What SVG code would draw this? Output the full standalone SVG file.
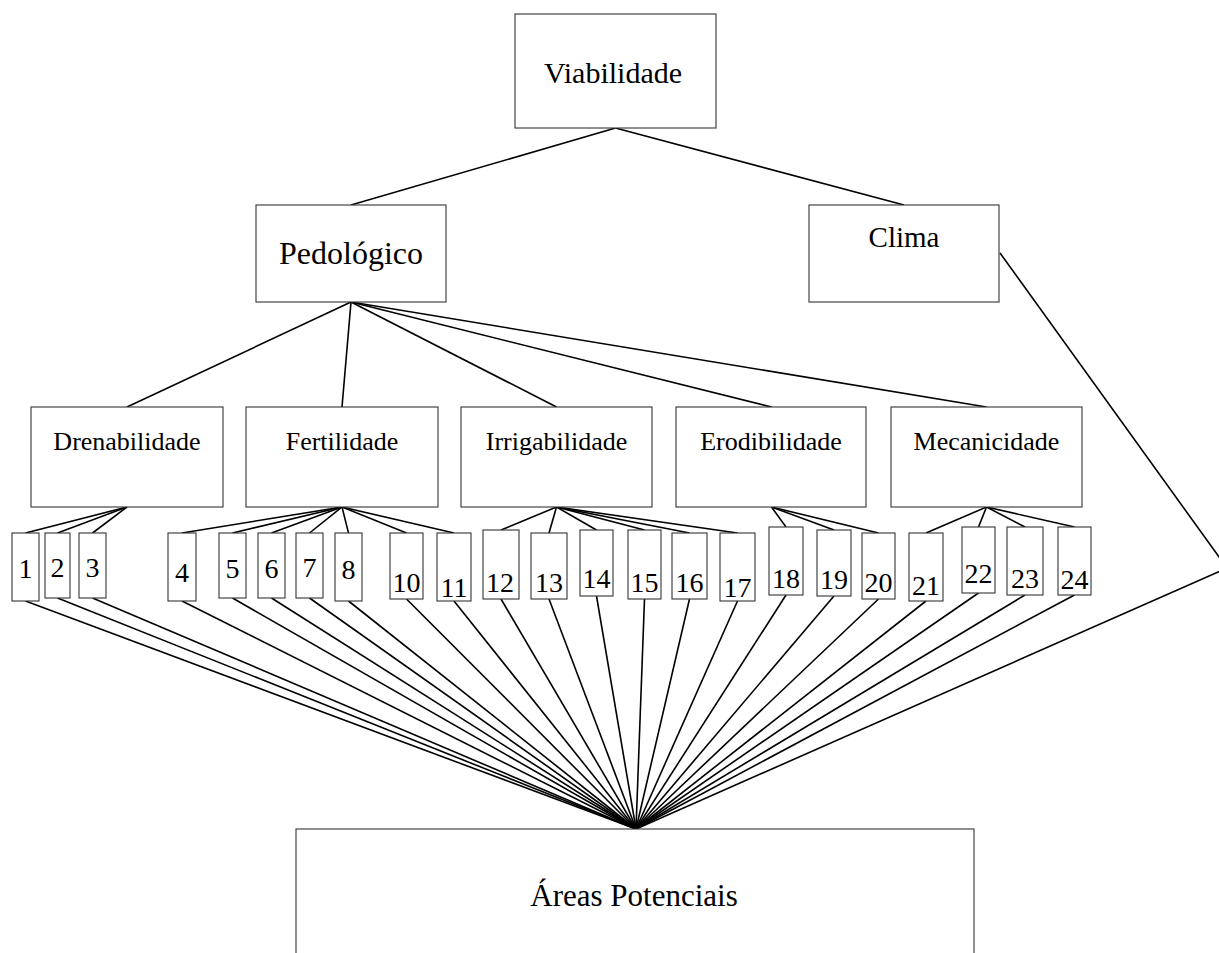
<svg xmlns="http://www.w3.org/2000/svg" width="1219" height="953" viewBox="0 0 1219 953">
<style>
.box{fill:#fff;stroke:#333;stroke-width:1.1}
.t{font-family:"Liberation Serif","Times New Roman",serif;fill:#000;text-anchor:middle}
.big{font-size:30px}
.mid{font-size:26px}
.num{font-size:28px}
.c line,.c polyline{stroke:#000;stroke-width:1.6;fill:none}
</style>
<rect width="1219" height="953" fill="#fff"/>
<g class="c" id="connectors">
<line x1="615.5" y1="128" x2="351" y2="205"/>
<line x1="615.5" y1="128" x2="904" y2="205"/>
<line x1="351" y1="302" x2="127" y2="407"/>
<line x1="351" y1="302" x2="342" y2="407"/>
<line x1="351" y1="302" x2="556.5" y2="407"/>
<line x1="351" y1="302" x2="771.5" y2="407"/>
<line x1="351" y1="302" x2="986.5" y2="407"/>
<line x1="127" y1="507" x2="25.5" y2="533"/>
<line x1="127" y1="507" x2="57.5" y2="533"/>
<line x1="127" y1="507" x2="92.5" y2="533"/>
<line x1="342" y1="507" x2="182" y2="533"/>
<line x1="342" y1="507" x2="232.5" y2="533"/>
<line x1="342" y1="507" x2="271.5" y2="533"/>
<line x1="342" y1="507" x2="309.5" y2="533"/>
<line x1="342" y1="507" x2="348.5" y2="533"/>
<line x1="342" y1="507" x2="406.5" y2="533"/>
<line x1="342" y1="507" x2="454" y2="533"/>
<line x1="556.5" y1="507" x2="501" y2="530"/>
<line x1="556.5" y1="507" x2="549" y2="533"/>
<line x1="556.5" y1="507" x2="596.5" y2="530"/>
<line x1="556.5" y1="507" x2="644.5" y2="530"/>
<line x1="556.5" y1="507" x2="689.5" y2="533"/>
<line x1="556.5" y1="507" x2="737.5" y2="533"/>
<line x1="771.5" y1="507" x2="786" y2="527"/>
<line x1="771.5" y1="507" x2="834" y2="530"/>
<line x1="771.5" y1="507" x2="878.5" y2="533"/>
<line x1="986.5" y1="507" x2="926" y2="533"/>
<line x1="986.5" y1="507" x2="978.5" y2="527"/>
<line x1="986.5" y1="507" x2="1025" y2="527"/>
<line x1="986.5" y1="507" x2="1074.5" y2="527"/>
<line x1="25.5" y1="601" x2="636" y2="829"/>
<line x1="57.5" y1="598" x2="636" y2="829"/>
<line x1="92.5" y1="598" x2="636" y2="829"/>
<line x1="182" y1="601" x2="636" y2="829"/>
<line x1="232.5" y1="598" x2="636" y2="829"/>
<line x1="271.5" y1="598" x2="636" y2="829"/>
<line x1="309.5" y1="598" x2="636" y2="829"/>
<line x1="348.5" y1="601" x2="636" y2="829"/>
<line x1="406.5" y1="599" x2="636" y2="829"/>
<line x1="454" y1="601" x2="636" y2="829"/>
<line x1="501" y1="599" x2="636" y2="829"/>
<line x1="549" y1="599" x2="636" y2="829"/>
<line x1="596.5" y1="596" x2="636" y2="829"/>
<line x1="644.5" y1="599" x2="636" y2="829"/>
<line x1="689.5" y1="599" x2="636" y2="829"/>
<line x1="737.5" y1="601" x2="636" y2="829"/>
<line x1="786" y1="595" x2="636" y2="829"/>
<line x1="834" y1="596" x2="636" y2="829"/>
<line x1="878.5" y1="599" x2="636" y2="829"/>
<line x1="926" y1="601" x2="636" y2="829"/>
<line x1="978.5" y1="593" x2="636" y2="829"/>
<line x1="1025" y1="595" x2="636" y2="829"/>
<line x1="1074.5" y1="595" x2="636" y2="829"/>
<polyline points="1000,253 1227,568 636,829"/>
</g>
<g id="viabilidade"><rect class="box" x="515" y="14" width="201" height="114"/><text class="t big" x="613" y="83">Viabilidade</text></g>
<g id="pedologico"><rect class="box" x="256" y="205" width="190" height="97"/><text class="t" style="font-size:32px" x="351" y="264">Pedológico</text></g>
<g id="clima"><rect class="box" x="809" y="205" width="190" height="97"/><text class="t" style="font-size:29px" x="904" y="247">Clima</text></g>
<g id="drenabilidade"><rect class="box" x="31" y="407" width="192" height="100"/><text class="t mid" x="127" y="450">Drenabilidade</text></g>
<g id="fertilidade"><rect class="box" x="246" y="407" width="192" height="100"/><text class="t mid" x="342" y="450">Fertilidade</text></g>
<g id="irrigabilidade"><rect class="box" x="461" y="407" width="191" height="100"/><text class="t mid" x="556.5" y="450">Irrigabilidade</text></g>
<g id="erodibilidade"><rect class="box" x="676" y="407" width="190" height="100"/><text class="t mid" x="771" y="450">Erodibilidade</text></g>
<g id="mecanicidade"><rect class="box" x="891" y="407" width="191" height="100"/><text class="t mid" x="986.5" y="450">Mecanicidade</text></g>
<g id="n1"><rect class="box" x="12" y="533" width="27" height="68"/><text class="t num" x="25.5" y="578">1</text></g>
<g id="n2"><rect class="box" x="45" y="533" width="25" height="65"/><text class="t num" x="57.5" y="577">2</text></g>
<g id="n3"><rect class="box" x="79" y="533" width="27" height="65"/><text class="t num" x="92.5" y="577">3</text></g>
<g id="n4"><rect class="box" x="168" y="533" width="28" height="68"/><text class="t num" x="182" y="582">4</text></g>
<g id="n5"><rect class="box" x="219" y="533" width="27" height="65"/><text class="t num" x="232.5" y="578">5</text></g>
<g id="n6"><rect class="box" x="258" y="533" width="27" height="65"/><text class="t num" x="271.5" y="578">6</text></g>
<g id="n7"><rect class="box" x="296" y="533" width="27" height="65"/><text class="t num" x="309.5" y="577">7</text></g>
<g id="n8"><rect class="box" x="335" y="533" width="27" height="68"/><text class="t num" x="348.5" y="579">8</text></g>
<g id="n10"><rect class="box" x="390" y="533" width="33" height="66"/><text class="t num" x="406.5" y="592">10</text></g>
<g id="n11"><rect class="box" x="437" y="533" width="34" height="68"/><text class="t num" x="454" y="597">11</text></g>
<g id="n12"><rect class="box" x="483" y="530" width="36" height="69"/><text class="t num" x="500" y="592">12</text></g>
<g id="n13"><rect class="box" x="531" y="533" width="36" height="66"/><text class="t num" x="549" y="592">13</text></g>
<g id="n14"><rect class="box" x="580" y="530" width="33" height="66"/><text class="t num" x="596.5" y="588">14</text></g>
<g id="n15"><rect class="box" x="628" y="530" width="33" height="69"/><text class="t num" x="644.5" y="592">15</text></g>
<g id="n16"><rect class="box" x="672" y="533" width="35" height="66"/><text class="t num" x="689.5" y="592">16</text></g>
<g id="n17"><rect class="box" x="720" y="533" width="35" height="68"/><text class="t num" x="737.5" y="597">17</text></g>
<g id="n18"><rect class="box" x="769" y="527" width="34" height="68"/><text class="t num" x="786" y="588">18</text></g>
<g id="n19"><rect class="box" x="817" y="530" width="34" height="66"/><text class="t num" x="834" y="589">19</text></g>
<g id="n20"><rect class="box" x="862" y="533" width="33" height="66"/><text class="t num" x="878.5" y="592">20</text></g>
<g id="n21"><rect class="box" x="909" y="533" width="34" height="68"/><text class="t num" x="926" y="595">21</text></g>
<g id="n22"><rect class="box" x="962" y="527" width="33" height="66"/><text class="t num" x="978.5" y="583">22</text></g>
<g id="n23"><rect class="box" x="1007" y="527" width="36" height="68"/><text class="t num" x="1025" y="588">23</text></g>
<g id="n24"><rect class="box" x="1058" y="527" width="33" height="68"/><text class="t num" x="1074.5" y="589">24</text></g>
<g id="areas"><rect class="box" x="296" y="829" width="678" height="140"/><text class="t" style="font-size:31px" x="634" y="906">Áreas Potenciais</text></g>
</svg>
